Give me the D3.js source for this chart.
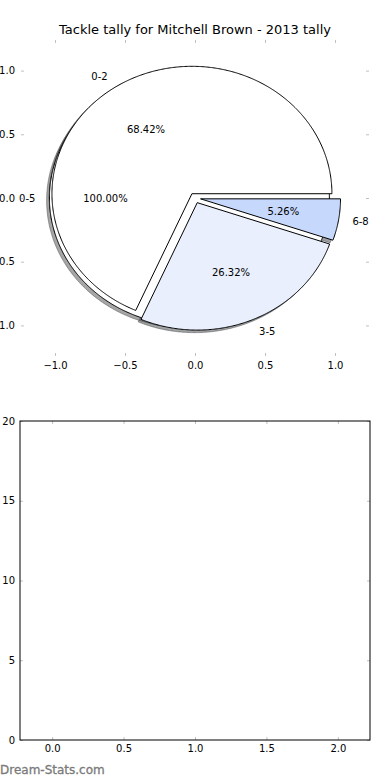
<!DOCTYPE html>
<html>
  <head>
    <meta charset="utf-8">
    <script type="text/javascript" src="https://cdn.jsdelivr.net/npm/d3@7/dist/d3.min.js"></script>
    <style>
        body{ margin:0; background:#fff; }
        svg { display:block; }
    </style>
  </head>
  <body>
    <script type="text/javascript">
      // chart values
      var titleText = "Tackle tally for Mitchell Brown - 2013 tally";
      var outerLabels = ["0-5"];
      var outerValues = [19];
      var outerColors = ["#ffffff"];
      var sliceLabels = ["0-2", "3-5", "6-8"];
      var sliceValues = [13, 5, 1];
      var sliceColors = ["#ffffff", "#e9effc", "#c6d8fc"];
      var explodeDist = 0.04;
      var pieTicks = [-1.0, -0.5, 0.0, 0.5, 1.0];
      var barXTicks = [0.0, 0.5, 1.0, 1.5, 2.0];
      var barYTicks = [0, 5, 10, 15, 20];
      var watermark = "Dream-Stats.com";

      var width = 390,
          height = 780;
      var font = "DejaVu Sans";
      var tickGrey = "#c0c0c0";

      var svg = d3.select("body").append("svg")
          .attr("width", width)
          .attr("height", height)
          .attr("font-family", font);

      // ---- pie axes ----
      var px = d3.scaleLinear().domain([-1.243, 1.243]).range([21, 369]);
      var py = d3.scaleLinear().domain([-1.24, 1.24]).range([356, 40]);

      svg.append("text")
          .attr("x", 195)
          .attr("y", 34)
          .attr("text-anchor", "middle")
          .attr("font-size", 13)
          .attr("fill", "#000")
          .text(titleText);

      var pie = d3.pie().sort(null).startAngle(0).endAngle(2 * Math.PI);

      function buildWedges(labels, values, colors) {
          var total = d3.sum(values);
          return pie(values).map(function(a, i) {
              var mid = (a.startAngle + a.endAngle) / 2;
              return {
                  label: labels[i],
                  pct: a.value / total * 100,
                  color: colors[i],
                  a0: a.startAngle,
                  a1: a.endAngle,
                  mid: mid,
                  cx: explodeDist * Math.cos(mid),
                  cy: explodeDist * Math.sin(mid)
              };
          });
      }

      // first pie (single full wedge) goes underneath the second
      var wedges = buildWedges(outerLabels, outerValues, outerColors)
          .concat(buildWedges(sliceLabels, sliceValues, sliceColors));

      function wedgePoints(cx, cy, a0, a1) {
          var pts = [];
          var full = (a1 - a0) >= 2 * Math.PI - 1e-9;
          if (!full) pts.push([cx, cy]);
          var n = Math.max(2, Math.ceil((a1 - a0) / (Math.PI / 360)));
          for (var i = 0; i <= n; i++) {
              var a = a0 + (a1 - a0) * i / n;
              pts.push([cx + Math.cos(a), cy + Math.sin(a)]);
          }
          return pts;
      }

      var line = d3.line()
          .x(function(d) { return px(d[0]); })
          .y(function(d) { return py(d[1]); });

      function shadowColor(d) {
          var c = d3.rgb(d.color);
          return d3.rgb(c.r * 0.3, c.g * 0.3, c.b * 0.3);
      }

      // shadows sit below every wedge
      svg.append("g").selectAll("path")
          .data(wedges)
          .enter().append("path")
            .attr("d", function(d) {
                return line(wedgePoints(d.cx - 0.02, d.cy - 0.02, d.a0, d.a1)) + "Z";
            })
            .attr("fill", shadowColor)
            .attr("fill-opacity", 0.5)
            .attr("stroke", shadowColor)
            .attr("stroke-opacity", 0.5);

      svg.append("g").selectAll("path")
          .data(wedges)
          .enter().append("path")
            .attr("d", function(d) { return line(wedgePoints(d.cx, d.cy, d.a0, d.a1)) + "Z"; })
            .attr("fill", function(d) { return d.color; })
            .attr("stroke", "#000")
            .attr("stroke-width", 1);

      var labelG = svg.append("g").attr("font-size", 10).attr("fill", "#000");

      labelG.selectAll(".lab")
          .data(wedges)
          .enter().append("text")
            .attr("class", "lab")
            .attr("x", function(d) { return px(d.cx + 1.1 * Math.cos(d.mid)); })
            .attr("y", function(d) { return py(d.cy + 1.1 * Math.sin(d.mid)); })
            .attr("dy", "0.35em")
            .attr("text-anchor", function(d) {
                return (d.cx + 1.1 * Math.cos(d.mid)) > 0 ? "start" : "end";
            })
            .text(function(d) { return d.label; });

      labelG.selectAll(".pct")
          .data(wedges)
          .enter().append("text")
            .attr("class", "pct")
            .attr("x", function(d) { return px(d.cx + 0.6 * Math.cos(d.mid)); })
            .attr("y", function(d) { return py(d.cy + 0.6 * Math.sin(d.mid)); })
            .attr("dy", "0.35em")
            .attr("text-anchor", "middle")
            .text(function(d) { return d3.format(".2f")(d.pct) + "%"; });

      // inward grey ticks, no frame on the pie axes
      function styleAxis(g) {
          g.select(".domain").remove();
          g.selectAll(".tick line").attr("stroke", tickGrey);
          g.selectAll(".tick text").attr("fill", "#000");
          g.attr("font-family", font).attr("font-size", 10);
      }

      svg.append("g")
          .attr("transform", "translate(0,356)")
          .call(d3.axisBottom(px).tickValues(pieTicks).tickFormat(d3.format(".1f"))
              .tickSizeInner(-3).tickSizeOuter(0).tickPadding(6))
          .call(styleAxis);
      svg.append("g")
          .attr("transform", "translate(0,40)")
          .call(d3.axisTop(px).tickValues(pieTicks).tickFormat("")
              .tickSizeInner(-3).tickSizeOuter(0))
          .call(styleAxis);
      // the minus signs fall off the left edge, as in the original
      svg.append("g")
          .attr("transform", "translate(21,0)")
          .call(d3.axisLeft(py).tickValues(pieTicks).tickFormat(d3.format(".1f"))
              .tickSizeInner(-3).tickSizeOuter(0).tickPadding(6))
          .call(styleAxis);
      svg.append("g")
          .attr("transform", "translate(369,0)")
          .call(d3.axisRight(py).tickValues(pieTicks).tickFormat("")
              .tickSizeInner(-3).tickSizeOuter(0))
          .call(styleAxis);

      // ---- empty bar axes ----
      var bx = d3.scaleLinear().domain([-0.225, 2.225]).range([20, 370]);
      var by = d3.scaleLinear().domain([0, 20]).range([740, 421]);

      svg.append("g")
          .attr("transform", "translate(0,740)")
          .call(d3.axisBottom(bx).tickValues(barXTicks).tickFormat(d3.format(".1f"))
              .tickSizeInner(-3).tickSizeOuter(0).tickPadding(5))
          .call(styleAxis);
      svg.append("g")
          .attr("transform", "translate(0,421)")
          .call(d3.axisTop(bx).tickValues(barXTicks).tickFormat("")
              .tickSizeInner(-3).tickSizeOuter(0))
          .call(styleAxis);
      svg.append("g")
          .attr("transform", "translate(20,0)")
          .call(d3.axisLeft(by).tickValues(barYTicks).tickFormat(d3.format("d"))
              .tickSizeInner(-3).tickSizeOuter(0).tickPadding(5))
          .call(styleAxis);
      svg.append("g")
          .attr("transform", "translate(370,0)")
          .call(d3.axisRight(by).tickValues(barYTicks).tickFormat("")
              .tickSizeInner(-3).tickSizeOuter(0))
          .call(styleAxis);

      svg.append("rect")
          .attr("x", bx.range()[0])
          .attr("y", by.range()[1])
          .attr("width", bx.range()[1] - bx.range()[0])
          .attr("height", by.range()[0] - by.range()[1])
          .attr("fill", "none")
          .attr("stroke", "#000")
          .attr("stroke-width", 1);

      svg.append("text")
          .attr("x", 0)
          .attr("y", 774)
          .attr("font-size", 12)
          .attr("fill", "#7a7a7a")
          .attr("stroke", "#7a7a7a")
          .attr("stroke-width", 0.3)
          .text(watermark);
    </script>
  </body>
</html>
